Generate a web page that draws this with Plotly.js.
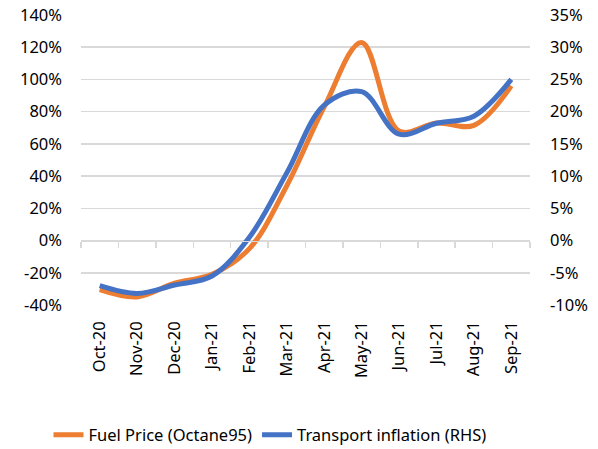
<!DOCTYPE html>
<html><head><meta charset="utf-8">
<script src="https://cdn.plot.ly/plotly-3.0.1.min.js"></script>
<style>html,body{margin:0;padding:0;background:#fff}#c{width:598px;height:449px}</style>
</head><body><div id="c"></div>
<script>
const months = ["Oct-20","Nov-20","Dec-20","Jan-21","Feb-21","Mar-21","Apr-21","May-21","Jun-21","Jul-21","Aug-21","Sep-21"];
const fuelPrice = [-30.5, -35, -26.5, -21, -5, 34, 83, 123, 68, 73, 71.5, 96];
const transportInflation = [-7, -8.2, -6.9, -5.5, 0.5, 10.5, 21, 23.1, 16.5, 18.2, 19.3, 25];
const leftTicks = [-40,-20,0,20,40,60,80,100,120,140];
const rightTicks = [-10,-5,0,5,10,15,20,25,30,35];
const F = "Noto Sans, sans-serif";
const traces = [
  {x: months, y: fuelPrice.map(v=>v/100), name: "Fuel Price (Octane95)", type: "scatter", mode: "lines",
   line: {color: "#ED7D31", width: 5, shape: "spline", smoothing: 1}, xaxis: "x", yaxis: "y"},
  {x: months, y: transportInflation.map(v=>v/100), name: "Transport inflation (RHS)", type: "scatter", mode: "lines",
   line: {color: "#4472C4", width: 5, shape: "spline", smoothing: 1}, xaxis: "x2", yaxis: "y2"}
];
const layout = {
  width: 598, height: 449,
  margin: {l: 81, r: 68, t: 15, b: 144, autoexpand: false},
  paper_bgcolor: "#fff", plot_bgcolor: "#fff",
  font: {family: F, size: 16.5, color: "#000"},
  showlegend: true,
  legend: {orientation: "h", x: 270/598, xanchor: "center", xref: "container", yref: "container", y: 14/449, yanchor: "middle",
    font: {family: F, size: 16.5}, traceorder: "normal", itemwidth: 30},
  xaxis: {type: "category", categoryarray: months, range: [-0.5, 11.5], showgrid: false, zeroline: false, showline: false,
    ticks: "", tickangle: -90, tickfont: {family: F, size: 16.5}, ticklabelstandoff: 12, automargin: false, fixedrange: true},
  xaxis2: {type: "category", categoryarray: months, range: [-0.5, 11.5], overlaying: "x", anchor: "free", position: 40/180,
    showgrid: false, zeroline: false, showline: true, linecolor: "#d9d9d9", linewidth: 1.5,
    ticks: "outside", tickson: "boundaries", ticklen: 6, tickwidth: 1.5, tickcolor: "#d9d9d9", showticklabels: false, automargin: false},
  yaxis: {range: [-0.4, 1.4], tickvals: leftTicks.map(v=>v/100), ticktext: leftTicks.map(v=>v+"%"),
    showgrid: true, gridcolor: "#d9d9d9", gridwidth: 1.5, zeroline: false, showline: false, ticks: "", ticklabelstandoff: 18,
    tickfont: {family: F, size: 16.5}, automargin: false},
  yaxis2: {range: [-0.1, 0.35], tickvals: rightTicks.map(v=>v/100), ticktext: rightTicks.map(v=>v+"%"), overlaying: "y", side: "right",
    showgrid: false, zeroline: false, showline: false, ticks: "", ticklabelstandoff: 19, tickfont: {family: F, size: 16.5}, automargin: false}
};
Plotly.newPlot("c", traces, layout, {displayModeBar: false, staticPlot: true});
</script></body></html>
